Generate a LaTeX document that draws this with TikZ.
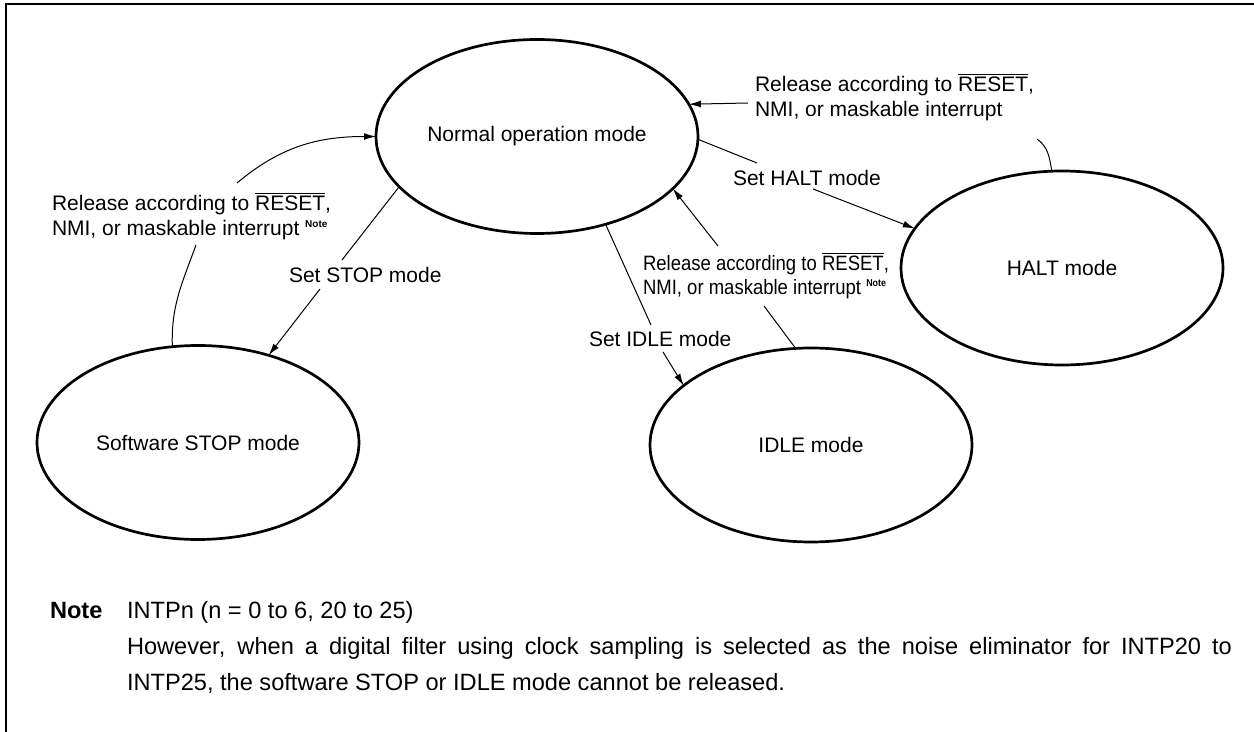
\documentclass[tikz,border=0pt]{standalone}
\usepackage{fontspec}
\setmainfont{Liberation Sans}
\newfontfamily\narrowfont[FakeStretch=0.89]{Liberation Sans}
\usetikzlibrary{arrows.meta,shapes.geometric}
\newcommand\rst{$\overline{\mbox{RESET}}$}
\newcommand\notesup{\raisebox{4pt}{\fontsize{5}{5}\selectfont\bfseries Note}}
\begin{document}
\begin{tikzpicture}[x=0.5pt,y=-0.5pt,
  mode/.style={ellipse, draw, line width=1.35pt, minimum width=161pt, minimum height=97pt,
    inner sep=0pt, outer sep=0pt, font=\fontsize{10.5}{12.5}\selectfont},
  lbl/.style={inner sep=0pt, outer sep=0pt, align=left, anchor=base west,
    font=\fontsize{10.5}{12.5}\selectfont},
  conn/.style={line width=0.5pt},
  arr/.style={conn, -{Latex[length=6pt,width=3.4pt]}},
  notetxt/.style={inner sep=0pt, outer sep=0pt, anchor=base west, font=\fontsize{11.8}{14}\selectfont}]
\useasboundingbox (0,0) rectangle (1254,732);
% frame
\draw[line width=1.2pt] (6,732) -- (6,4) -- (1254,4);

% modes
\node[mode] (normal) at (537,136.5) {Normal operation mode};
\node[mode] (halt) at (1062,268) {HALT mode};
\node[mode] (idle) at (811,445) {IDLE mode};
\node[mode] (stop) at (198,442.5) {Software STOP mode};

% labels (anchor = baseline of the last line)
\node[lbl] (lhr) at (755,117) {Release according to \rst,\\NMI, or maskable interrupt};
\node[lbl] (lsh) at (733,186) {Set HALT mode};
\node[lbl, font=\narrowfont\fontsize{10.4}{12}\selectfont] (lir) at (643,295) {Release according to \rst,\\NMI, or maskable interrupt \notesup};
\node[lbl] (lsi) at (589,347) {Set IDLE mode};
\node[lbl] (lsr) at (52,236) {Release according to \rst,\\NMI, or maskable interrupt \notesup};
\node[lbl] (lss) at (289,283) {Set STOP mode};

% label-side coordinates
\coordinate (hr1) at (1037,139);
\coordinate (hr2) at (748,103);
\coordinate (sh1) at (757,163);
\coordinate (sh2) at (813,189);
\coordinate (ir1) at (764,306);
\coordinate (ir2) at (718,246);
\coordinate (si1) at (651,325);
\coordinate (si2) at (663,352);
\coordinate (ss1) at (342,260);
\coordinate (ss2) at (320,289);
\coordinate (sr1) at (196,245);
\coordinate (sr2) at (237,183);

% release HALT -> normal
\draw[conn] (halt.96) to[out=100,in=-35] (hr1);
\draw[arr] (hr2) -- (normal.12.6);
% set HALT
\draw[conn] (normal.-1) -- (sh1);
\draw[arr] (sh2) -- (halt.165.8);
% release IDLE -> normal
\draw[conn] (idle.99.7) -- (ir1);
\draw[arr] (ir2) -- (normal.-21.2);
% set IDLE
\draw[conn] (normal.-52.3) -- (si1);
\draw[arr] (si2) -- (idle.155.9);
% set STOP
\draw[conn] (normal.-160) -- (ss1);
\draw[arr] (ss2) -- (stop.51.2);
% release STOP -> normal
\draw[conn] (stop.105.2) to[out=92,in=-110] (sr1);
\draw[arr] (sr2) to[out=40,in=180] (normal.180);

% note
\node[notetxt, font=\fontsize{11.8}{14}\selectfont\bfseries] (nhd) at (50,618) {Note};
\node[notetxt] (n1) at (127,618) {INTPn (n = 0 to 6, 20 to 25)};
\node[notetxt] (n2) at (127,654) {\makebox[552.5pt][s]{However, when a digital filter using clock sampling is selected as the noise eliminator for INTP20 to}};
\node[notetxt] (n3) at (127,690) {INTP25, the software STOP or IDLE mode cannot be released.};
\end{tikzpicture}
\end{document}
